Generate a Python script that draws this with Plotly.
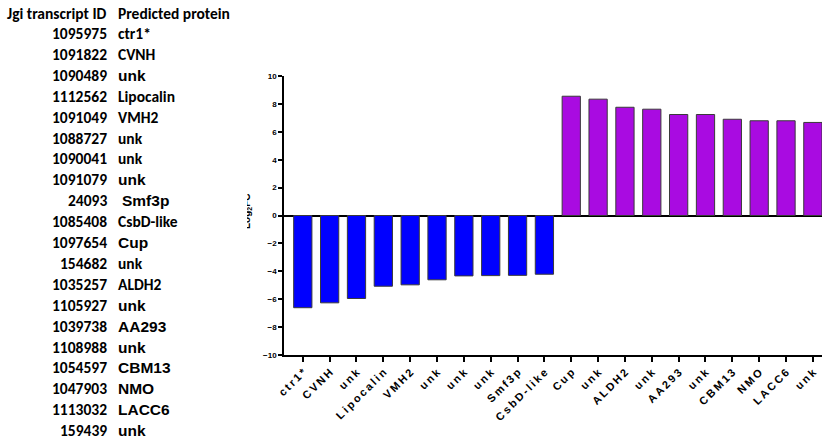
import plotly.graph_objects as go

# Differentially expressed transcripts: JGI transcript IDs, predicted proteins, log2 fold change
transcript_ids = ["1095975", "1091822", "1090489", "1112562", "1091049",
                  "1088727", "1090041", "1091079", "24093", "1085408",
                  "1097654", "154682", "1035257", "1105927", "1039738",
                  "1108988", "1054597", "1047903", "1113032", "159439"]
proteins = ["ctr1*", "CVNH", "unk", "Lipocalin", "VMH2",
            "unk", "unk", "unk", "Smf3p", "CsbD-like",
            "Cup", "unk", "ALDH2", "unk", "AA293",
            "unk", "CBM13", "NMO", "LACC6", "unk"]
log2fc = [-6.61, -6.26, -5.95, -5.07, -4.97, -4.61, -4.33, -4.31, -4.29, -4.21,
          8.55, 8.34, 7.76, 7.62, 7.24, 7.24, 6.90, 6.79, 6.79, 6.67]
y_ticks = [-10, -8, -6, -4, -2, 0, 2, 4, 6, 8, 10]

W, H = 822, 440
ML, MR, MT, MB = 284, 0, 76, 85
PW, PH = W - ML - MR, H - MT - MB

BLUE = "#0000FF"
PURPLE = "#A90BE1"
EDGE = "#3a3a3a"
ARIAL = "Arial, Liberation Sans, sans-serif"
CALIBRI = "Calibri, Carlito, Lato, sans-serif"

# rows of the side table whose protein name is set in Arial rather than Calibri
arial_rows = {2, 7, 8, 10, 13, 14, 15, 16, 17, 18, 19}


def px_x(px):
    return (px - ML) / PW


def px_y(py):
    return (H - MB - py) / PH


def tracked(s):
    # wide letter tracking, as in the axis labels
    return "\u2009".join(s)


x_pos = list(range(len(log2fc)))
colors = [BLUE if v < 0 else PURPLE for v in log2fc]

fig = go.Figure(go.Bar(
    x=x_pos, y=log2fc,
    marker=dict(color=colors, line=dict(color=EDGE, width=1)),
    width=0.68,
    hoverinfo="skip",
))

anns = []
row0, row_step = 33.5, 20.9
cal_font = dict(family=CALIBRI, size=15.5, color="black")
anns.append(dict(text="<b>Jgi transcript ID</b>", x=px_x(108.5), y=px_y(13.5),
                 xanchor="right", yanchor="middle", font=cal_font))
anns.append(dict(text="<b>Predicted protein</b>", x=px_x(116), y=px_y(13.5),
                 xanchor="left", yanchor="middle", font=cal_font))
for i, (tid, prot) in enumerate(zip(transcript_ids, proteins)):
    yy = px_y(row0 + i * row_step)
    anns.append(dict(text=f"<b>{tid}</b>", x=px_x(109), y=yy,
                     xanchor="right", yanchor="middle", font=cal_font))
    if i in arial_rows:
        fnt = dict(family=ARIAL, size=15.5, color="black")
        xs = 120 if prot == "Smf3p" else 116
    else:
        fnt = cal_font
        xs = 116
    anns.append(dict(text=f"<b>{prot}</b>", x=px_x(xs), y=yy,
                     xanchor="left", yanchor="middle", font=fnt))

# y-axis title; the box is shorter than the line, so only the lower part of the glyphs shows
anns.append(dict(text="<b>Log<sub>2</sub>FC</b>", x=px_x(250), y=px_y(211),
                 xanchor="center", yanchor="middle", textangle=-90,
                 height=6, valign="bottom",
                 font=dict(family=ARIAL, size=10, color="black")))

for a in anns:
    a.update(xref="paper", yref="paper", showarrow=False)

fig.update_layout(
    width=W, height=H,
    margin=dict(l=ML, r=MR, t=MT, b=MB, pad=0),
    paper_bgcolor="white", plot_bgcolor="white",
    showlegend=False,
    annotations=anns,
    xaxis=dict(
        range=[-0.7, 19.34],
        tickmode="array", tickvals=x_pos, ticktext=[tracked(p) for p in proteins],
        tickangle=-45,
        tickfont=dict(family=ARIAL, size=11, color="black", weight="bold"),
        showline=True, linecolor="black", linewidth=1.5,
        ticks="outside", ticklen=5, tickwidth=1.5, tickcolor="black",
        showgrid=False, zeroline=False,
    ),
    yaxis=dict(
        range=[-10, 10],
        tickmode="array", tickvals=y_ticks,
        tickfont=dict(family=ARIAL, size=8, color="black", weight="bold"),
        showline=True, linecolor="black", linewidth=1.5,
        ticks="outside", ticklen=4, tickwidth=1.5, tickcolor="black",
        showgrid=False,
        zeroline=True, zerolinecolor="black", zerolinewidth=1.5,
    ),
)

fig.write_html("out.html")
